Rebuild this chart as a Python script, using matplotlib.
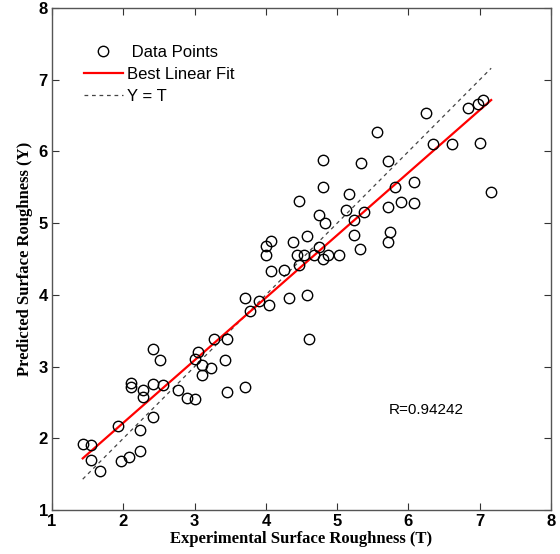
import numpy as np
import matplotlib
matplotlib.use("Agg")
import matplotlib.pyplot as plt

# Experimental (T) and predicted (Y) surface roughness
T = [1.43, 1.54, 1.54, 1.67, 1.93, 1.97, 2.08, 2.24, 2.24, 2.11, 2.11, 2.28, 2.28,
     2.42, 2.42, 2.52, 2.42, 2.55, 2.76, 2.89, 3.00, 3.00, 3.05, 3.11, 3.11, 3.23,
     3.27, 3.45, 3.42, 3.45, 3.71, 3.71, 3.77, 3.90, 4.04, 4.33, 4.07, 4.25,
     4.80, 5.33, 5.71, 4.80, 4.46, 5.16, 5.13, 5.38, 4.75, 4.83, 5.24, 5.81, 5.71,
     5.89, 5.74, 5.71, 5.24, 5.32, 4.58, 4.38, 4.07, 4.00, 4.00, 4.43, 4.46, 4.54,
     4.68, 4.74, 4.80, 4.87, 5.02, 4.58, 4.60,
     7.05, 6.97, 6.84, 6.25, 5.56, 6.35, 6.61, 7.01, 7.16, 6.08, 6.08]
Y = [1.92, 1.91, 1.70, 1.55, 2.17, 1.69, 1.74, 1.82, 2.11, 2.77, 2.71, 2.68, 2.57,
     2.29, 3.24, 3.09, 2.76, 2.75, 2.67, 2.56, 2.55, 3.11, 3.21, 3.02, 2.88, 2.98,
     3.38, 3.38, 3.09, 2.64, 2.71, 3.96, 3.77, 3.91, 3.86, 3.96, 4.33, 4.34,
     5.88, 5.84, 5.87, 5.51, 5.31, 5.40, 5.19, 5.15, 5.11, 5.00, 5.05, 5.50, 5.22,
     5.29, 4.88, 4.73, 4.84, 4.64, 4.82, 4.73, 4.75, 4.68, 4.56, 4.56, 4.42, 4.56,
     4.56, 4.67, 4.50, 4.56, 4.56, 4.00, 3.38,
     6.72, 6.66, 6.60, 6.54, 6.27, 6.11, 6.10, 6.12, 5.43, 5.58, 5.28]

fit_slope = 0.872
fit_intercept = 0.473
r_text = "R=0.94242"
ticks = [1, 2, 3, 4, 5, 6, 7, 8]

T = np.array(T)
Y = np.array(Y)

fig = plt.figure(figsize=(5.6, 5.54), dpi=100)
ax = fig.add_axes([0.093, 0.0794, 0.891, 0.9062])

ax.plot(T, Y, 'o', mfc='none', mec='black', ms=7.5, mew=1.0, label='Data Points', zorder=3)
tx = np.array([T.min(), T.max()])
ax.plot(tx, fit_slope * tx + fit_intercept, '-', color='red', lw=1.6, label='Best Linear Fit', zorder=2)
ax.plot(tx, tx, '--', color='#444444', lw=0.9, dashes=(3, 3), label='Y = T', zorder=1)

ax.set_xlim(1, 8)
ax.set_ylim(1, 8)
ax.set_xticks(ticks)
ax.set_yticks(ticks)
sans = 'Liberation Sans'
ax.set_xticklabels([str(t) for t in ticks], fontfamily=sans, fontsize=12, fontweight='bold')
ax.set_yticklabels([str(t) for t in ticks], fontfamily=sans, fontsize=12, fontweight='bold')
ax.tick_params(direction='in', length=5, width=0.8, top=True, right=True, pad=3, color='#333333')
for s in ax.spines.values():
    s.set_color('#555555')
    s.set_linewidth(1.0)

ax.set_xlabel('Experimental Surface Roughness (T)', fontfamily='Liberation Serif',
              fontweight='bold', fontsize=12, labelpad=1)
ax.set_ylabel('Predicted Surface Roughness (Y)', fontfamily='Liberation Serif',
              fontweight='bold', fontsize=12, labelpad=4)

ax.text(5.73, 2.40, r_text, fontfamily=sans, fontsize=11, va='center', ha='left')

leg = ax.legend(loc='upper left', bbox_to_anchor=(0.05, 0.939), frameon=False,
                prop={'family': sans, 'size': 12}, handlelength=2.35, handletextpad=0.25,
                labelspacing=0.42, borderaxespad=0)
leg.get_texts()[0].set_text(' Data Points')

fig.savefig('out.png', dpi=100)
